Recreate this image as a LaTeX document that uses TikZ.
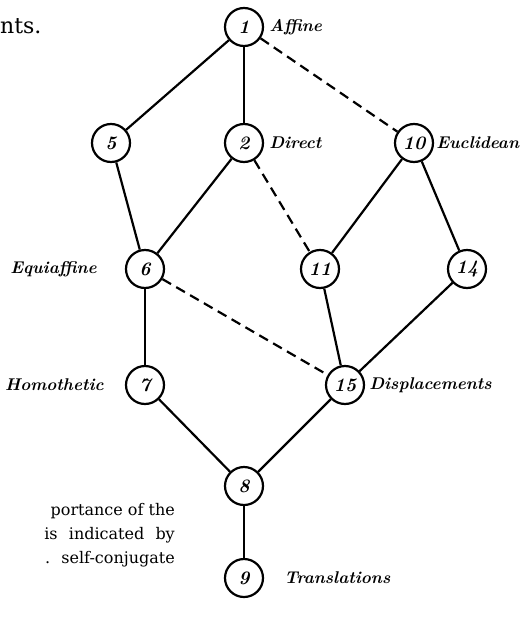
\documentclass[tikz,border=0pt]{standalone}
\usepackage{fontspec}
\newfontfamily\bodyfont{DejaVu Serif}
\usepackage{tikz}
\usetikzlibrary{positioning}

\tikzset{
  grp/.style={circle, draw, line width=2.2pt, minimum size=38pt, inner sep=0pt,
    font=\fontsize{19}{19}\selectfont\bfseries\itshape},
  lab/.style={inner sep=0pt, font=\fontsize{17}{17}\selectfont\bfseries\itshape},
  sub/.style={line width=2.2pt},
  nsub/.style={line width=2.2pt, dashed, dash pattern=on 10pt off 6pt},
  page/.style={inner sep=0pt, font=\bodyfont\fontsize{16}{16}\selectfont}
}

\begin{document}
\begin{tikzpicture}[x=1pt,y=-1pt]
  \useasboundingbox (0,0) rectangle (522,626);

  % the groups
  \foreach \n/\x/\y in {
    1/244/27,
    5/111/143,
    2/244/143,
    10/414/143,
    6/145/269,
    11/320/269,
    14/467/269,
    7/145/385,
    15/345/385,
    8/244/486,
    9/244/578
  }{
    \node[grp] (n\n) at (\x,\y) {\n};
  }

  % names
  \node[lab, right=5pt of n1] (affine) {Affine};
  \node[lab, right=5pt of n2] (direct) {Direct};
  \node[lab, right=2pt of n10] (euclid) {Euclidean};
  \node[lab, left=28pt of n6] (equiaff) {Equiaffine};
  \node[lab, left=21pt of n7] (homot) {Homothetic};
  \node[lab, right=4pt of n15] (displ) {Displacements};
  \node[lab, right=20pt of n9] (transl) {Translations};

  % subgroups
  \foreach \a/\b in {1/5, 1/2, 5/6, 2/6, 10/11, 10/14, 6/7, 11/15, 14/15, 7/8, 15/8, 8/9}
    \draw[sub] (n\a) -- (n\b);
  \foreach \a/\b in {1/10, 2/11, 6/15}
    \draw[nsub] (n\a) -- (n\b);

  % page text
  \node[page, anchor=base west, font=\bodyfont\fontsize{22}{22}\selectfont] (txttop) at (0,34) {nts.};
  \node[page, anchor=base east] (txtl1) at (175,515) {portance of the};
  \node[page, anchor=base east] (txtl2) at (175,539) {is\hspace{0.7em}indicated\hspace{0.7em}by};
  \node[page, anchor=base east] (txtl3) at (175,563) {.\hspace{0.7em}self-conjugate};
\end{tikzpicture}
\end{document}
